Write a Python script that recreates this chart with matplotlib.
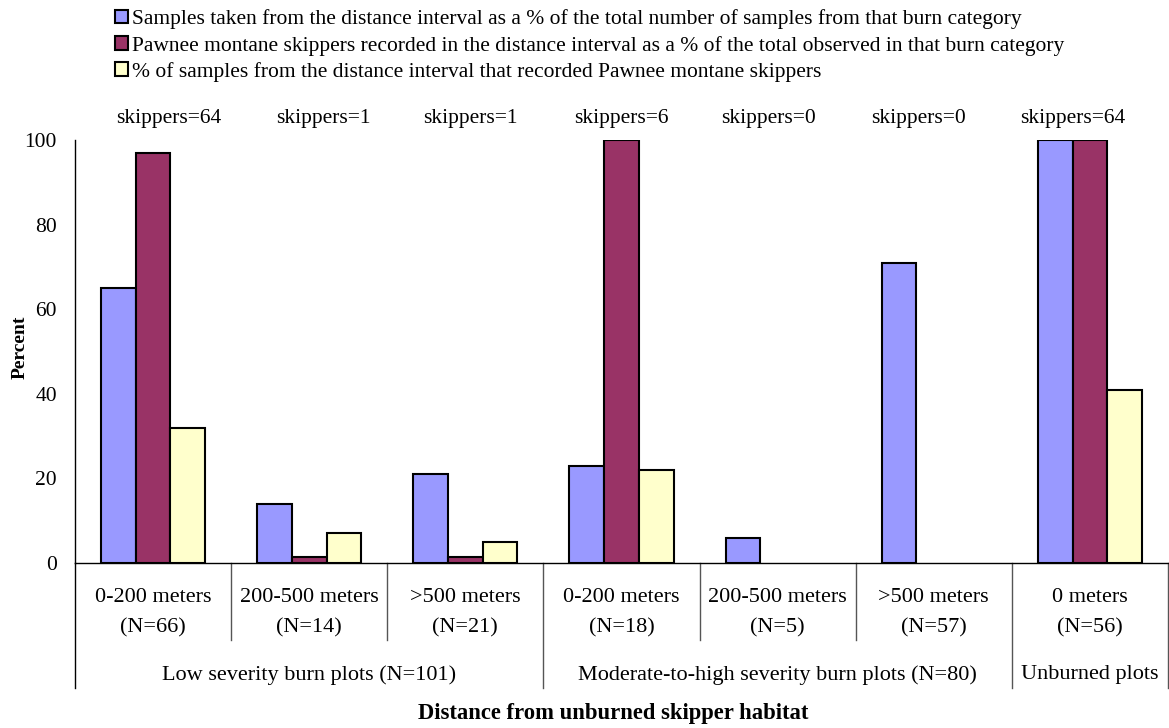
import matplotlib.pyplot as plt
from matplotlib.patches import Patch

# categories along the x axis
distances = ["0-200 meters", "200-500 meters", ">500 meters",
             "0-200 meters", "200-500 meters", ">500 meters", "0 meters"]
n_plots = ["(N=66)", "(N=14)", "(N=21)", "(N=18)", "(N=5)", "(N=57)", "(N=56)"]
skippers = [64, 1, 1, 6, 0, 0, 64]
groups = ["Low severity burn plots (N=101)",
          "Moderate-to-high severity burn plots (N=80)",
          "Unburned plots"]
group_sizes = [3, 3, 1]

# series values (percent)
samples_pct = [65, 14, 21, 23, 6, 71, 100]
skippers_pct = [97, 1.5, 1.5, 100, 0, 0, 100]
recorded_pct = [32, 7, 5, 22, 0, 0, 41]

labels = ["Samples taken from the distance interval as a % of the total number of samples from that burn category",
          "Pawnee montane skippers recorded in the distance interval as a % of the total observed in that burn category",
          "% of samples from the distance interval that recorded Pawnee montane skippers"]
colors = ["#9999FF", "#993366", "#FFFFCC"]

# the skipper count boxes were placed by hand, slightly off-centre
skip_offsets = [0.10, 0.09, 0.03, 0.0, -0.06, -0.10, -0.11]

plt.rcParams['font.family'] = ['Liberation Serif', 'DejaVu Serif']

fig = plt.figure(figsize=(11.69, 7.28), dpi=100)
ax = fig.add_axes([75 / 1169, 165 / 728, 1093 / 1169, 423 / 728])

bw = 1 / 4.5
x = list(range(len(distances)))
for i, (vals, col) in enumerate(zip([samples_pct, skippers_pct, recorded_pct], colors)):
    # zero values draw nothing, as in the original
    pos = [xi + (i - 1) * bw for xi, v in zip(x, vals) if v > 0]
    hs = [v for v in vals if v > 0]
    ax.bar(pos, hs, width=bw, color=col, edgecolor='black', linewidth=1.5)

ax.set_xlim(-0.5, 6.5)
ax.set_ylim(0, 100)
ax.set_yticks([0, 20, 40, 60, 80, 100])
ax.tick_params(axis='y', length=0, pad=13, labelsize=15.5)
ax.set_xticks([])
for s in ['top', 'right']:
    ax.spines[s].set_visible(False)
ax.spines['left'].set_linewidth(1)
ax.spines['bottom'].set_linewidth(1)

tr = ax.get_xaxis_transform()
h = 423.0
# category labels and skipper counts
for xi, d, n, s, off in zip(x, distances, n_plots, skippers, skip_offsets):
    ax.text(xi, -34 / h, d, transform=tr, ha='center', va='center', fontsize=16)
    ax.text(xi, -65 / h, n, transform=tr, ha='center', va='center', fontsize=16)
    ax.text(xi + off, 445 / h, "skippers=%d" % s, transform=tr, ha='center',
            va='center', fontsize=15.5)

# separator lines below the axis
start = -0.5
bounds = [start]
for g, size in zip(groups, group_sizes):
    mid = start + size / 2
    ax.text(mid, -112 / h, g, transform=tr, ha='center', va='center', fontsize=16)
    for k in range(1, size):
        ax.plot([start + k, start + k], [0, -77 / h], transform=tr,
                color='#555555', lw=1, clip_on=False)
    start += size
    bounds.append(start)
for b in bounds:
    ax.plot([b, b], [0, -125 / h], transform=tr,
            color='black' if b == -0.5 else '#555555', lw=1, clip_on=False)

fig.text(20 / 1169, (728 - 347) / 728, "Percent", rotation=90, ha='center',
         va='center', fontsize=14, fontweight='bold')
fig.text(613 / 1169, 14 / 728, "Distance from unburned skipper habitat",
         ha='center', va='center', fontsize=16.3, fontweight='bold')

handles = [Patch(facecolor=c, edgecolor='black', linewidth=1.5) for c in colors]
fig.legend(handles, labels, loc='upper left', bbox_to_anchor=(0.0855, 1.008),
           frameon=False, fontsize=15.5, handlelength=0.6, handleheight=0.6,
           handletextpad=0.2, labelspacing=0.3, borderaxespad=0.3)

fig.savefig("out.png", dpi=100)
